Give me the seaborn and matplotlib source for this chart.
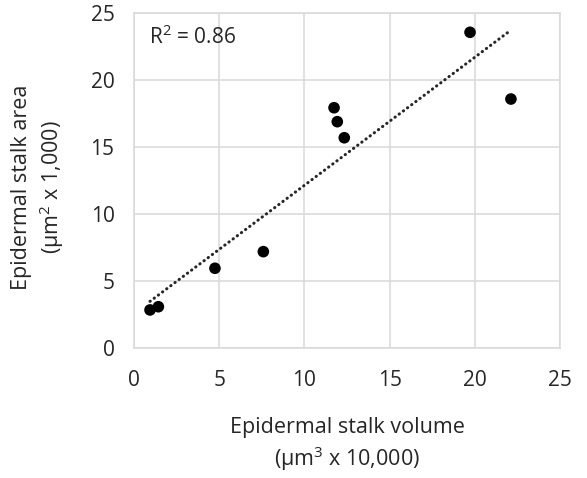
import numpy as np
import pandas as pd
import seaborn as sns
import matplotlib.pyplot as plt

# values
volume = [0.94, 1.43, 4.75, 7.59, 11.74, 11.93, 12.34, 19.72, 22.12]
area = [2.84, 3.08, 5.95, 7.19, 17.93, 16.89, 15.69, 23.56, 18.58]
ticks = [0, 5, 10, 15, 20, 25]
r2_label = "R$^2$ = 0.86"


def main():
    df = pd.DataFrame({"volume": volume, "area": area})

    sns.set_style("white")
    plt.rcParams["font.family"] = ["Open Sans", "DejaVu Sans"]
    plt.rcParams["mathtext.fontset"] = "custom"
    plt.rcParams["mathtext.rm"] = "Open Sans"

    fig = plt.figure(figsize=(5.87, 4.78), dpi=100)
    ax = fig.add_axes([134 / 587, 1 - 348 / 478, 426 / 587, 335 / 478])

    sns.regplot(data=df, x="volume", y="area", ax=ax, ci=None, truncate=True,
                scatter_kws=dict(s=70, color="black", edgecolor="none", alpha=1, zorder=3),
                line_kws=dict(color="#262626", linestyle=(0, (0.1, 1.6)),
                              linewidth=2.2, dash_capstyle="round"))

    ax.set_xlim(0, 25)
    ax.set_ylim(0, 25)
    ax.set_xticks(ticks)
    ax.set_yticks(ticks)
    ax.grid(True, color="#d9d9d9", linewidth=1.1)
    ax.set_axisbelow(True)
    for s in ax.spines.values():
        s.set_color("#d9d9d9")
        s.set_linewidth(1.1)
    ax.tick_params(length=0, labelsize=15, colors="#262626")
    ax.tick_params(axis="x", pad=16)
    ax.tick_params(axis="y", pad=14)

    ax.set_xlabel("Epidermal stalk volume\n(µm$^3$ x 10,000)", fontsize=15.5,
                  color="#262626", linespacing=1.3)
    ax.set_ylabel("Epidermal stalk area\n(µm$^2$ x 1,000)", fontsize=15.5,
                  color="#262626", linespacing=1.25)
    ax.xaxis.set_label_coords(0.5, -0.205)
    ax.yaxis.set_label_coords(-0.16, 0.48)

    ax.text(0.9, 23.2, r2_label, fontsize=15, color="#262626", va="center")

    fig.savefig("out.png", dpi=100)


if __name__ == "__main__":
    main()
